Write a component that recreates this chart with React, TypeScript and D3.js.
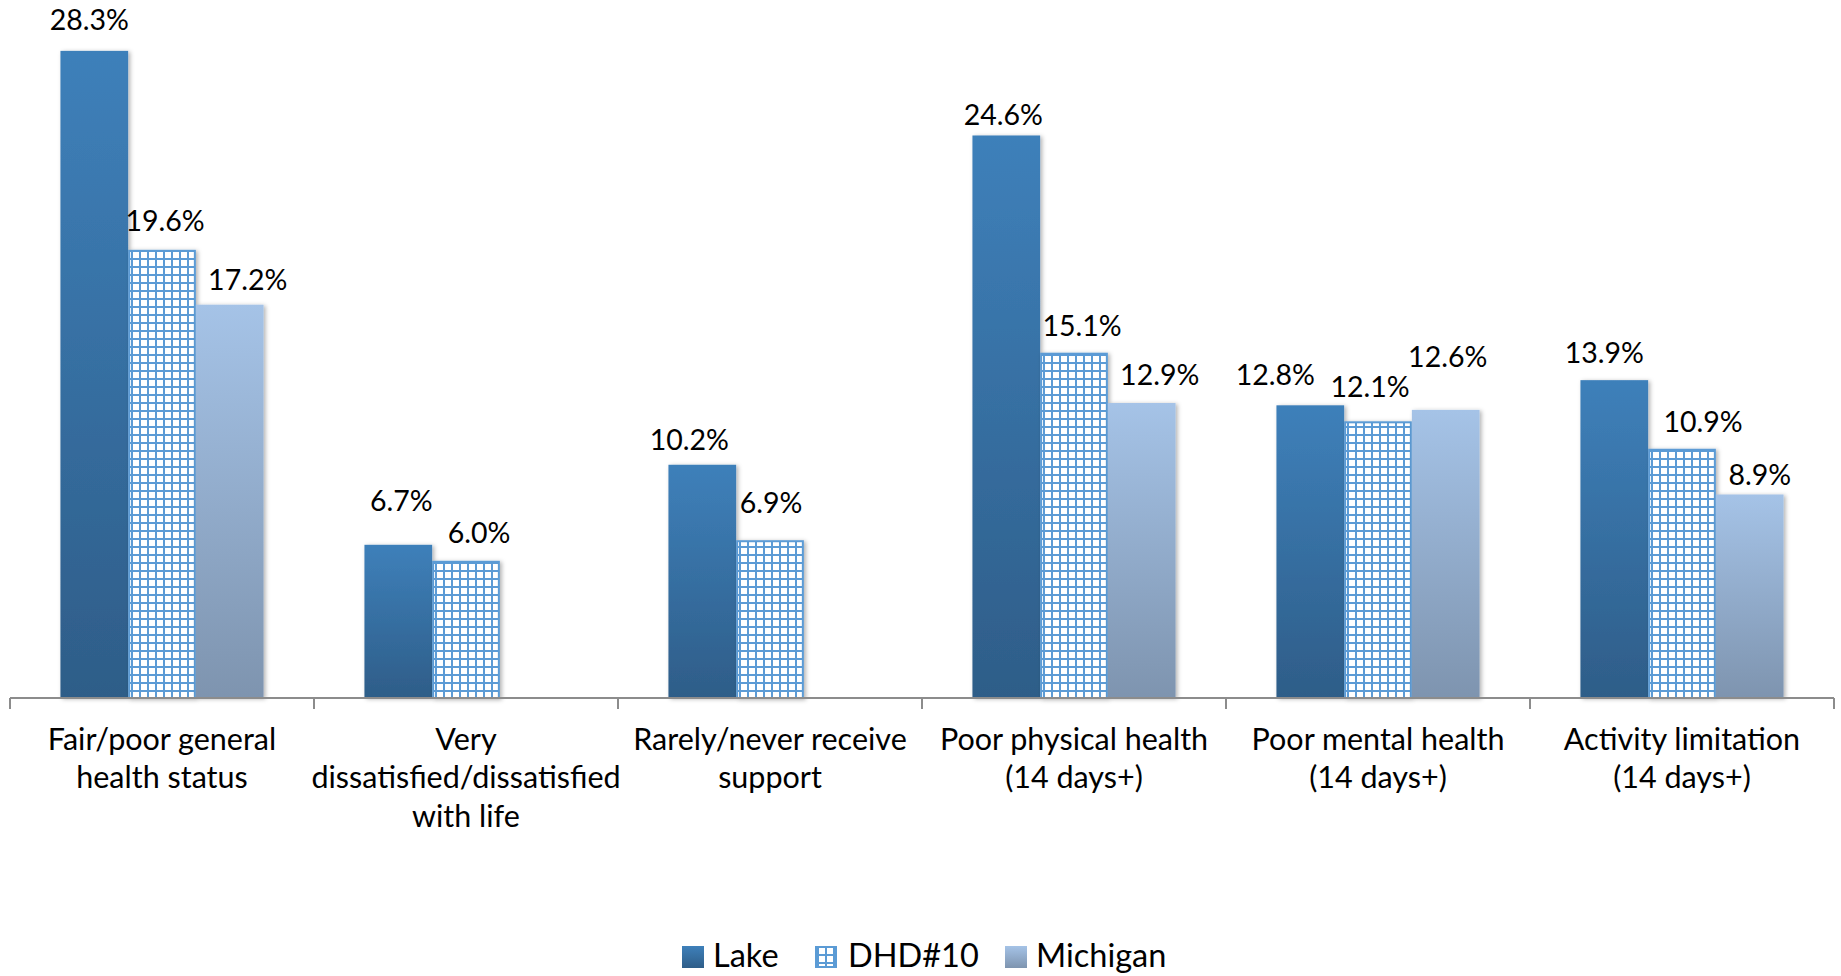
import React from "react";
import * as d3 from "d3";

const categories: string[][] = [
  ["Fair/poor general", "health status"],
  ["Very", "dissatisfied/dissatisfied", "with life"],
  ["Rarely/never receive", "support"],
  ["Poor physical health", "(14 days+)"],
  ["Poor mental health", "(14 days+)"],
  ["Activity limitation", "(14 days+)"],
];
const seriesNames = ["Lake", "DHD#10", "Michigan"];
const lakeValues: (number | null)[] = [28.3, 6.7, 10.2, 24.6, 12.8, 13.9];
const dhdValues: (number | null)[] = [19.6, 6.0, 6.9, 15.1, 12.1, 10.9];
const michiganValues: (number | null)[] = [17.2, null, null, 12.9, 12.6, 8.9];
const seriesValues = [lakeValues, dhdValues, michiganValues];

// manual label nudges (layout only), [dx, dy] per series per category
const labelNudge: [number, number][][] = [
  [[-5, -3], [3, -16], [-13, 3], [-3, 8], [-35, -2], [-10, 1]],
  [[3, -1], [13, 0], [1, -9], [8, 1], [-8, -6], [21, 1]],
  [[18, 3], [0, 0], [0, 0], [18, 0], [2, -25], [10, 9]],
];

const W = 1841;
const H = 976;
const left = 10;
const right = 1834;
const baseY = 698;
const topY = 12;
const FONT = "Lato, 'Open Sans', sans-serif";

export default function App() {
  const keys = categories.map((c, i) => String(i));
  const x0 = d3.scaleBand<string>().domain(keys).range([left, right]).paddingInner(0).paddingOuter(0);
  const x1 = d3.scaleBand<string>().domain(seriesNames).range([0, x0.bandwidth()]).paddingInner(0).paddingOuter(0.745);
  const y = d3.scaleLinear().domain([0, 30]).range([baseY, topY]);
  const bw = x1.bandwidth();

  const fills = ["url(#gLake)", "url(#pDHD)", "url(#gMich)"];

  const legendItems = [
    { name: seriesNames[0], sx: 682, tx: 713 },
    { name: seriesNames[1], sx: 815, tx: 848 },
    { name: seriesNames[2], sx: 1005, tx: 1036 },
  ];

  return (
    <svg width={W} height={H} style={{ position: "absolute", left: 0, top: 0, background: "#fff" }}>
      <defs>
        <linearGradient id="gLake" x1="0" y1="0" x2="0" y2="1">
          <stop offset="0" stopColor="#3e80ba" />
          <stop offset="1" stopColor="#2e5d88" />
        </linearGradient>
        <linearGradient id="gMich" x1="0" y1="0" x2="0" y2="1">
          <stop offset="0" stopColor="#a5c3e7" />
          <stop offset="1" stopColor="#7e94af" />
        </linearGradient>
        <pattern id="pDHD" patternUnits="userSpaceOnUse" width="8" height="8" x="1" y="2">
          <rect width="8" height="8" fill="#fff" />
          <rect x="0" y="0" width="2" height="8" fill="#5b9bd5" />
          <rect x="0" y="0" width="8" height="2" fill="#5b9bd5" />
        </pattern>
        <filter id="shadow" x="-10%" y="-5%" width="130%" height="115%">
          <feDropShadow dx="2" dy="1" stdDeviation="2" floodColor="#000" floodOpacity="0.3" />
        </filter>
      </defs>

      {/* bars */}
      {keys.map((k, ci) => (
        <g key={k} transform={`translate(${x0(k)},0)`}>
          {seriesNames.map((s, si) => {
            const v = seriesValues[si][ci];
            if (v == null) return null;
            const bx = x1(s)!;
            const by = y(v);
            const h = baseY - by;
            return si === 1 ? (
              <rect key={s} x={bx + 1} y={by + 1} width={bw - 2} height={h - 1} fill={fills[si]} stroke="#5b9bd5" strokeWidth={2} filter="url(#shadow)" />
            ) : (
              <rect key={s} x={bx} y={by} width={bw} height={h} fill={fills[si]} filter="url(#shadow)" />
            );
          })}
        </g>
      ))}

      {/* axis */}
      <line x1={left} x2={right} y1={baseY} y2={baseY} stroke="#8c8c8c" strokeWidth={2} />
      {d3.range(keys.length + 1).map((i) => {
        const xx = left + i * x0.step();
        return <line key={i} x1={xx} x2={xx} y1={baseY} y2={baseY + 11} stroke="#8c8c8c" strokeWidth={2} />;
      })}

      {/* data labels */}
      {keys.map((k, ci) =>
        seriesNames.map((s, si) => {
          const v = seriesValues[si][ci];
          if (v == null) return null;
          const cx = x0(k)! + x1(s)! + bw / 2 + labelNudge[si][ci][0];
          const ly = y(v) - 18 + labelNudge[si][ci][1];
          return (
            <text key={`${k}-${s}`} x={cx} y={ly} textAnchor="middle" fontFamily={FONT} fontSize={28.5} fill="#000">
              {v.toFixed(1) + "%"}
            </text>
          );
        })
      )}

      {/* category labels */}
      {keys.map((k, ci) => (
        <text key={k} x={x0(k)! + x0.bandwidth() / 2} y={750} textAnchor="middle" fontFamily={FONT} fontSize={30.5} fill="#000">
          {categories[ci].map((line, li) => (
            <tspan key={li} x={x0(k)! + x0.bandwidth() / 2} y={750 + li * 38.3}>
              {line}
            </tspan>
          ))}
        </text>
      ))}

      {/* legend */}
      {legendItems.map((it, i) => (
        <g key={it.name}>
          {i === 1 ? (
            <rect x={it.sx + 1} y={947} width={20} height={20} fill={fills[i]} stroke="#5b9bd5" strokeWidth={2} />
          ) : (
            <rect x={it.sx} y={946} width={22} height={22} fill={fills[i]} />
          )}
          <text x={it.tx} y={967} fontFamily={FONT} fontSize={32.5} fill="#000">
            {it.name}
          </text>
        </g>
      ))}
    </svg>
  );
}
